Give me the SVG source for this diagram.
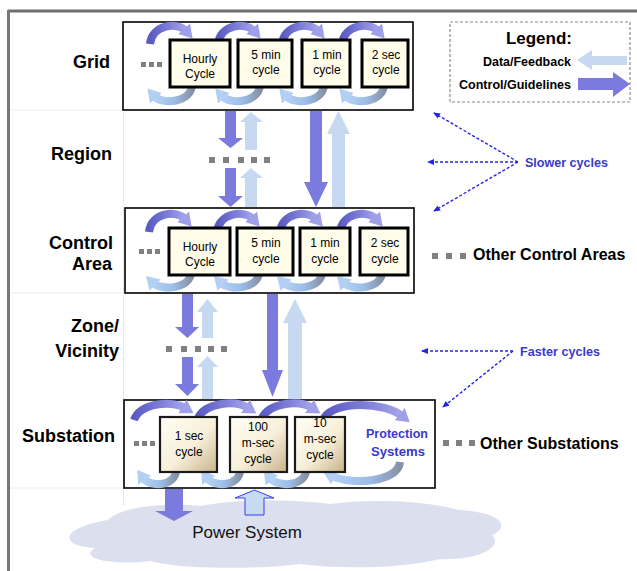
<svg xmlns="http://www.w3.org/2000/svg" width="637" height="571" viewBox="0 0 637 571">
<defs>
<linearGradient id="gTop" x1="0" y1="0" x2="1" y2="0"><stop offset="0" stop-color="#5a5ac2"/><stop offset="0.55" stop-color="#7f7fda"/><stop offset="1" stop-color="#a5a5ec"/></linearGradient>
<linearGradient id="gBot" x1="0" y1="0" x2="1" y2="0"><stop offset="0" stop-color="#b5d2f5"/><stop offset="0.55" stop-color="#9abce8"/><stop offset="1" stop-color="#8892a6"/></linearGradient>
<linearGradient id="gSub" x1="0" y1="0" x2="1" y2="1"><stop offset="0" stop-color="#fffef6"/><stop offset="0.55" stop-color="#f7efd9"/><stop offset="1" stop-color="#c8b28b"/></linearGradient>
<marker id="mTop" markerWidth="13" markerHeight="16" refX="3" refY="8" orient="auto" markerUnits="userSpaceOnUse"><path d="M0,0 L13,8 L0,16 Z" fill="#a0a0ea"/></marker>
<marker id="mBot" markerWidth="13" markerHeight="16" refX="3" refY="8" orient="auto" markerUnits="userSpaceOnUse"><path d="M0,0 L13,8 L0,16 Z" fill="#b3d0f4"/></marker>
<marker id="mDot" markerWidth="7" markerHeight="6" refX="6" refY="3" orient="auto" markerUnits="userSpaceOnUse"><path d="M0,0 L7,3 L0,6 Z" fill="#2323e8"/></marker>
</defs>
<style>
text{font-family:"Liberation Sans",Arial,sans-serif}
.lbl{font-weight:bold;font-size:18px;fill:#000;text-anchor:end}
.cyc{font-size:12px;text-anchor:middle;fill:#000}
.ib{fill:#fffde9;stroke:#000;stroke-width:3}
.sb{fill:url(#gSub);stroke:#1a1a1a;stroke-width:2.2}
.ob{fill:#fff;stroke:#000;stroke-width:1.6}
.at{fill:none;stroke:url(#gTop);stroke-width:8;marker-end:url(#mTop)}
.ab{fill:none;stroke:url(#gBot);stroke-width:8;marker-end:url(#mBot)}
.dk{fill:#7b7bdf}
.lt{fill:#c6d9f1}
.dot{fill:#808080}
.blue{font-weight:bold;fill:#3a3ac8}
.dash{fill:none;stroke:#2424e8;stroke-width:1.4;stroke-dasharray:3 2;marker-end:url(#mDot)}
.side{font-weight:bold;font-size:16px;fill:#000}
</style>

<g id="frame">
<line x1="8" y1="11" x2="637" y2="11" stroke="#6e6e6e" stroke-width="3"/>
<line x1="8.5" y1="10" x2="8.5" y2="571" stroke="#777" stroke-width="3"/>
<line x1="10" y1="110" x2="123" y2="110" stroke="#ececec" stroke-width="1"/>
<line x1="10" y1="293" x2="123" y2="293" stroke="#ececec" stroke-width="1"/>
<line x1="10" y1="488" x2="123" y2="488" stroke="#ececec" stroke-width="1"/>
<line x1="123.5" y1="110" x2="123.5" y2="505" stroke="#d4d4d4" stroke-width="1" stroke-dasharray="1 1"/>
</g>

<g id="level-labels">
<text class="lbl" x="110" y="68">Grid</text>
<text class="lbl" x="112" y="160">Region</text>
<text class="lbl" x="113" y="249">Control</text>
<text class="lbl" x="112" y="270">Area</text>
<text class="lbl" x="119" y="332">Zone/</text>
<text class="lbl" x="119" y="357">Vicinity</text>
<text class="lbl" x="115" y="442">Substation</text>
</g>

<g id="power-system">
<path d="M95,548 C58,546 60,528 108,520 C120,507 165,502 200,506 C240,498 300,500 330,504 C372,498 430,501 458,510 C500,512 512,526 492,535 C505,549 472,561 440,559 C400,569 340,569 300,564 C250,570 180,569 150,561 C110,566 78,558 95,548 Z" fill="#dcdfee"/>
<text x="247" y="538" font-size="17" text-anchor="middle" fill="#111">Power System</text>
</g>

<g id="grid">
<rect class="ob" x="123" y="22" width="290" height="88"/>
<rect class="dot" x="141" y="62" width="5" height="5"/><rect class="dot" x="149" y="62" width="5" height="5"/><rect class="dot" x="157" y="62" width="5" height="5"/>
<path class="at" d="M150,44 C152,24 178,22 186,31"/>
<path class="at" d="M218,44 C220,24 246,22 254,31"/>
<path class="at" d="M282,44 C284,24 310,22 318,31"/>
<path class="at" d="M342,44 C344,24 370,22 378,31"/>
<path class="ab" d="M192,84 C192,103 162,105 154,96"/>
<path class="ab" d="M260,84 C260,103 230,105 222,96"/>
<path class="ab" d="M324,84 C324,103 294,105 286,96"/>
<path class="ab" d="M384,84 C384,103 354,105 346,96"/>
<rect class="ib" x="170" y="40" width="60" height="47"/>
<rect class="ib" x="238" y="40" width="54" height="47"/>
<rect class="ib" x="302" y="40" width="48" height="47"/>
<rect class="ib" x="362" y="40" width="46" height="47"/>
<text class="cyc" x="200" y="63">Hourly</text><text class="cyc" x="200" y="78">Cycle</text>
<text class="cyc" x="266" y="59">5 min</text><text class="cyc" x="266" y="74">cycle</text>
<text class="cyc" x="327" y="59">1 min</text><text class="cyc" x="327" y="74">cycle</text>
<text class="cyc" x="386" y="59">2 sec</text><text class="cyc" x="386" y="74">cycle</text>
</g>

<g id="control-area">
<rect class="ob" x="125" y="208" width="289" height="85"/>
<rect class="dot" x="139" y="249" width="5" height="5"/><rect class="dot" x="147" y="249" width="5" height="5"/><rect class="dot" x="155" y="249" width="5" height="5"/>
<path class="at" d="M149,232 C151,212 177,210 185,219"/>
<path class="at" d="M217,232 C219,212 245,210 253,219"/>
<path class="at" d="M280,232 C282,212 308,210 316,219"/>
<path class="at" d="M340,232 C342,212 368,210 376,219"/>
<path class="ab" d="M191,272 C191,289 161,291 153,283"/>
<path class="ab" d="M259,272 C259,289 229,291 221,283"/>
<path class="ab" d="M322,272 C322,289 292,291 284,283"/>
<path class="ab" d="M382,272 C382,289 352,291 344,283"/>
<rect class="ib" x="169" y="228" width="61" height="47"/>
<rect class="ib" x="237" y="228" width="56" height="47"/>
<rect class="ib" x="300" y="228" width="50" height="47"/>
<rect class="ib" x="360" y="228" width="48" height="47"/>
<text class="cyc" x="200" y="251">Hourly</text><text class="cyc" x="200" y="266">Cycle</text>
<text class="cyc" x="266" y="247">5 min</text><text class="cyc" x="266" y="263">cycle</text>
<text class="cyc" x="325" y="247">1 min</text><text class="cyc" x="325" y="263">cycle</text>
<text class="cyc" x="385" y="247">2 sec</text><text class="cyc" x="385" y="263">cycle</text>
</g>

<g id="substation">
<rect class="ob" x="124" y="400" width="311" height="88"/>
<rect class="dot" x="134" y="441" width="5" height="5"/><rect class="dot" x="142" y="441" width="5" height="5"/><rect class="dot" x="150" y="441" width="5" height="5"/>
<path class="at" d="M134,420 C140,403 172,400 185,408"/>
<path class="at" d="M198,418 C206,402 236,400 248,408"/>
<path class="at" d="M262,418 C270,402 300,400 312,408"/>
<path class="at" d="M324,418 C335,400 385,402 402,416"/>
<path class="ab" d="M176,470 C176,486 150,488 143,478"/>
<path class="ab" d="M240,470 C240,486 214,488 207,478"/>
<path class="ab" d="M306,470 C306,486 278,488 270,478"/>
<path class="ab" d="M400,462 C398,483 350,485 332,476"/>
<rect class="sb" x="160" y="417" width="57" height="55"/>
<rect class="sb" x="230" y="417" width="57" height="55"/>
<rect class="sb" x="295" y="417" width="50" height="55"/>
<text class="cyc" x="189" y="440">1 sec</text><text class="cyc" x="189" y="456">cycle</text>
<text class="cyc" x="258" y="431">100</text><text class="cyc" x="258" y="447">m-sec</text><text class="cyc" x="258" y="463">cycle</text>
<text class="cyc" x="320" y="427">10</text><text class="cyc" x="320" y="443">m-sec</text><text class="cyc" x="320" y="459">cycle</text>
<text class="blue" x="397" y="438" font-size="13.5" text-anchor="middle" textLength="62" lengthAdjust="spacingAndGlyphs">Protection</text>
<text class="blue" x="398" y="456" font-size="13.5" text-anchor="middle" textLength="54" lengthAdjust="spacingAndGlyphs">Systems</text>
</g>

<g id="legend">
<rect x="450" y="22" width="180" height="80" fill="#fff" stroke="#8a8a8a" stroke-width="1.2" stroke-dasharray="3 2"/>
<text x="572" y="44" font-size="17" font-weight="bold" text-anchor="end">Legend:</text>
<text x="571" y="66" font-size="12.5" font-weight="bold" text-anchor="end" textLength="88" lengthAdjust="spacingAndGlyphs">Data/Feedback</text>
<text x="571" y="89" font-size="12.5" font-weight="bold" text-anchor="end" textLength="112" lengthAdjust="spacingAndGlyphs">Control/Guidelines</text>
<polygon class="lt" points="577,60 592,50 592,56 627,56 627,65 592,65 592,70"/>
<polygon class="dk" points="578,78 613,78 613,72 630,84 613,97 613,90 578,90"/>
</g>

<g id="other-control-areas">
<rect class="dot" x="432" y="253" width="6" height="6"/><rect class="dot" x="446" y="253" width="6" height="6"/><rect class="dot" x="460" y="253" width="6" height="6"/>
<text class="side" x="473" y="260">Other Control Areas</text>
</g>

<g id="other-substations">
<rect class="dot" x="443" y="440" width="6" height="6"/><rect class="dot" x="456" y="440" width="6" height="6"/><rect class="dot" x="469" y="440" width="6" height="6"/>
<text class="side" x="480" y="449">Other Substations</text>
</g>

<g id="slower-cycles">
<text class="blue" x="525" y="167" font-size="13.5" textLength="83" lengthAdjust="spacingAndGlyphs">Slower cycles</text>
</g>
<g id="faster-cycles">
<text class="blue" x="520" y="356" font-size="13.5" textLength="80" lengthAdjust="spacingAndGlyphs">Faster cycles</text>
</g>

<g id="connectors">
<path class="dash" d="M518,162 L434,113"/>
<path class="dash" d="M518,162 L428,162"/>
<path class="dash" d="M518,162 L434,211"/>
<path class="dash" d="M513,351 L422,351"/>
<path class="dash" d="M513,351 L443,407"/>
<polygon class="dk" points="225,111 236,111 236,138 243,138 230.5,148 218,138 225,138"/>
<polygon class="dk" points="225,168 236,168 236,196 243,196 230.5,207 218,196 225,196"/>
<polygon class="lt" points="245,150 257,150 257,122 263,122 251,112 240,122 245,122"/>
<polygon class="lt" points="245,207 257,207 257,178 263,178 251,168 240,178 245,178"/>
<polygon class="dk" points="310,111 322,111 322,182 328,182 316,207 304,182 310,182"/>
<polygon class="lt" points="332,207 345,207 345,134 350,134 338.5,111 327,134 332,134"/>
<rect class="dot" x="209" y="157" width="6" height="6"/><rect class="dot" x="223" y="157" width="6" height="6"/><rect class="dot" x="238" y="157" width="6" height="6"/><rect class="dot" x="251" y="157" width="6" height="6"/><rect class="dot" x="264" y="157" width="6" height="6"/>
<polygon class="dk" points="182,294 193,294 193,327 199,327 187.5,338 175,327 182,327"/>
<polygon class="dk" points="182,357 193,357 193,384 199,384 187.5,396 175,384 182,384"/>
<polygon class="lt" points="202,338 213,338 213,312 218,312 207.5,299 197,312 202,312"/>
<polygon class="lt" points="202,399 213,399 213,367 218,367 207.5,356 197,367 202,367"/>
<polygon class="dk" points="267,294 278,294 278,370 283,370 272.5,397 262,370 267,370"/>
<polygon class="lt" points="288,399 302,399 302,323 307,323 295,299 283,323 288,323"/>
<rect class="dot" x="166" y="346" width="6" height="6"/><rect class="dot" x="181" y="346" width="6" height="6"/><rect class="dot" x="195" y="346" width="6" height="6"/><rect class="dot" x="208" y="346" width="6" height="6"/><rect class="dot" x="221" y="346" width="6" height="6"/>
<polygon class="dk" points="165,489 183,489 183,511 193,511 174,521 155,511 165,511"/>
<polygon points="245,515 264,515 264,498 274,498 254.5,490 235,498 245,498" fill="#c6daf2" stroke="#3a3af0" stroke-width="1"/>
</g>
</svg>
